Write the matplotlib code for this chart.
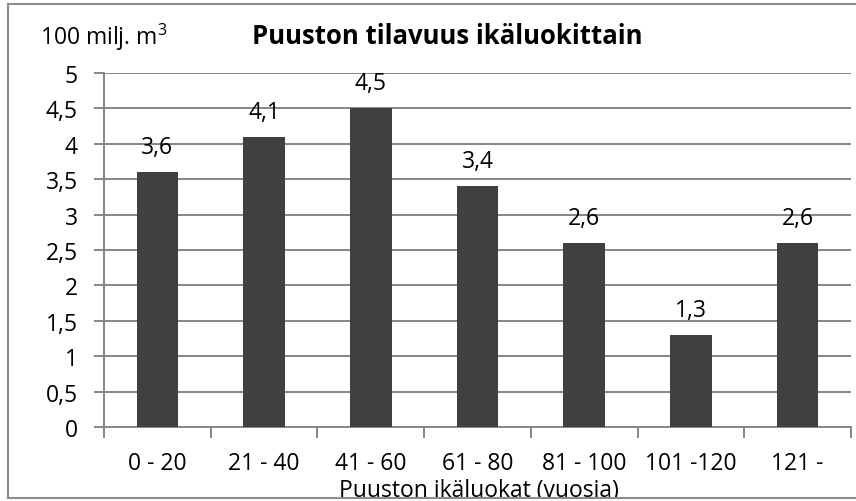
import matplotlib
matplotlib.use("Agg")
import matplotlib.pyplot as plt
from matplotlib.patches import Rectangle
from matplotlib.lines import Line2D

categories = ["0 - 20", "21 - 40", "41 - 60", "61 - 80", "81 - 100", "101 -120", "121 -"]
values = [3.6, 4.1, 4.5, 3.4, 2.6, 1.3, 2.6]
value_labels = ["3,6", "4,1", "4,5", "3,4", "2,6", "1,3", "2,6"]
yticks = [0, 0.5, 1, 1.5, 2, 2.5, 3, 3.5, 4, 4.5, 5]
ytick_labels = ["0", "0,5", "1", "1,5", "2", "2,5", "3", "3,5", "4", "4,5", "5"]

plt.rcParams['font.family'] = ['Open Sans', 'DejaVu Sans']
plt.rcParams['mathtext.fontset'] = 'custom'
plt.rcParams['mathtext.rm'] = 'Open Sans'
plt.rcParams['mathtext.it'] = 'Open Sans'

W, H = 856, 502
fig = plt.figure(figsize=(W / 100, H / 100), dpi=100)
ax = fig.add_axes([104 / W, 1 - 428 / H, (851 - 104) / W, (428 - 74) / H])

FS = 16.5
x = list(range(len(categories)))
ax.bar(x, values, width=0.39, color="#404040", zorder=3)
ax.set_xlim(-0.5, len(categories) - 0.5)
ax.set_ylim(0, 5)

gray = "#868686"
ax.set_yticks(yticks)
ax.set_yticklabels(ytick_labels, fontsize=FS)
ax.yaxis.grid(True, color=gray, linewidth=1.4, zorder=0)
ax.set_axisbelow(True)
ax.set_xticks([i - 0.5 for i in range(len(categories) + 1)])
ax.set_xticklabels([])
ax.set_xticks(x, minor=True)
ax.set_xticklabels(categories, minor=True, fontsize=FS)
ax.tick_params(axis='x', which='major', length=8, width=1.4, color=gray, direction='out')
ax.tick_params(axis='x', which='minor', length=0, pad=17)
ax.tick_params(axis='y', length=7, width=1.4, color=gray, pad=12)
for s in ["top", "right"]:
    ax.spines[s].set_visible(False)
for s in ["left", "bottom"]:
    ax.spines[s].set_color(gray)
    ax.spines[s].set_linewidth(1.4)

for xi, v, lab in zip(x, values, value_labels):
    ax.annotate(lab, (xi, v), xytext=(0, 18), textcoords="offset points",
                ha="center", va="center", fontsize=FS, zorder=4)

fig.text(40 / W, 1 - 37 / H, "100 milj. m$\\mathrm{^3}$", fontsize=FS, ha="left", va="center")
fig.text(447 / W, 1 - 37 / H, "Puuston tilavuus ikäluokittain", fontsize=18.5,
         fontweight="bold", ha="center", va="center")
fig.text(479 / W, 1 - 491 / H, "Puuston ikäluokat (vuosia)", fontsize=FS,
         ha="center", va="center")

# white strip below bottom border and border lines
fig.patches.append(Rectangle((0, 0), 1, 3 / H, transform=fig.transFigure,
                             facecolor="white", edgecolor="none", zorder=10))
bc = "#8c8c8c"
fig.lines.append(Line2D([8 / W, 8 / W], [1 - 5 / H, 1 - 499 / H], transform=fig.transFigure,
                        color=bc, linewidth=1.5, zorder=11))
fig.lines.append(Line2D([8 / W, 1], [1 - 5 / H, 1 - 5 / H], transform=fig.transFigure,
                        color=bc, linewidth=1.5, zorder=11))
fig.lines.append(Line2D([8 / W, 1], [1 - 499 / H, 1 - 499 / H], transform=fig.transFigure,
                        color=bc, linewidth=1.5, zorder=11))

fig.savefig("out.png", dpi=100)
